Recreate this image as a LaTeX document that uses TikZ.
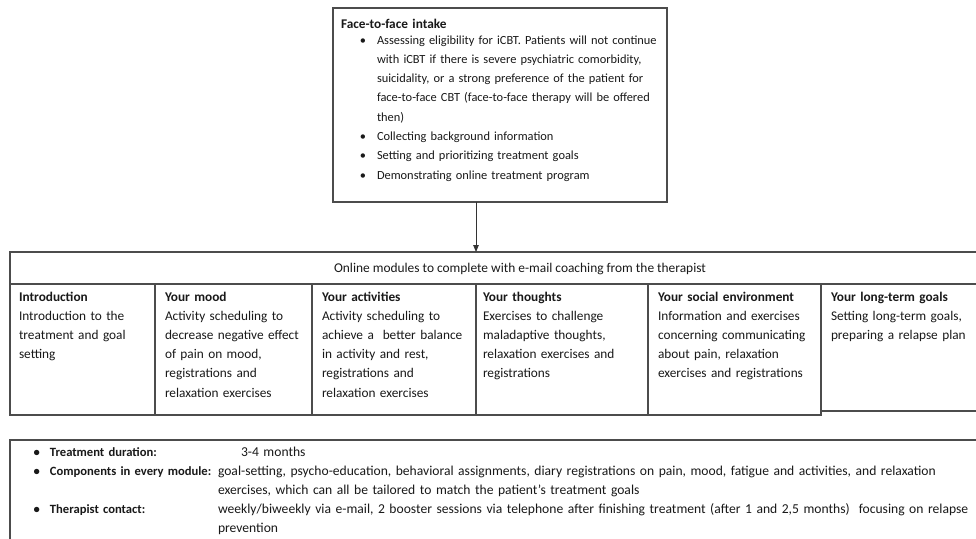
\documentclass[tikz,border=0pt]{standalone}
\usepackage{fontspec}
\setmainfont{Carlito}
\usetikzlibrary{arrows.meta}
\newcommand{\bul}[1]{\leavevmode\llap{\textbullet\hspace{#1}}}
\begin{document}
\begin{tikzpicture}[x=1pt,y=-1pt,
  frame/.style={draw=black!70, line width=1.1pt, inner sep=0pt, outer sep=0pt, anchor=north west},
  txt/.style={anchor=base west, inner sep=0pt, outer sep=0pt, text width=#1, align=left, text=black!90},
  lbl/.style={txt=190pt, font=\fontsize{12.6}{19.2}\selectfont\bfseries},
  val/.style={txt=800pt, font=\fontsize{13.6}{19}\selectfont},
  arrowline/.style={draw=black!80, line width=0.9pt, -{Triangle[width=5.5pt,length=7pt]}},
  font=\fontsize{13.3}{19.2}\selectfont]
\useasboundingbox (0,0) rectangle (976,538);
\fill[white] (0,0) rectangle (976,538);

% intake box
\node[frame, minimum width=334pt, minimum height=194pt] (intake) at (333,8) {};
\node[txt=300pt] (intakehead) at (341,28) {\textbf{Face-to-face intake}};
\node[txt=295pt, font=\fontsize{12.4}{19.3}\selectfont] (intakelist) at (377,44) {%
\bul{11pt}Assessing eligibility for iCBT. Patients will not continue\\
with iCBT if there is severe psychiatric comorbidity,\\
suicidality, or a strong preference of the patient for\\
face-to-face CBT (face-to-face therapy will be offered\\
then)\\
\bul{11pt}Collecting background information\\
\bul{11pt}Setting and prioritizing treatment goals\\
\bul{11pt}Demonstrating online treatment program};

% modules table
\node[frame, minimum width=1040pt, minimum height=32pt] (online) at (10,252) {};
\node[anchor=base, inner sep=0pt, text=black!90, font=\fontsize{13.4}{19.2}\selectfont] (onlinetxt) at (520,272) {Online modules to complete with e-mail coaching from the therapist};

\node[frame, minimum width=145pt, minimum height=131pt] (c1) at (10,284) {};
\node[frame, minimum width=157pt, minimum height=131pt] (c2) at (155,284) {};
\node[frame, minimum width=164pt, minimum height=131pt] (c3) at (312,284) {};
\node[frame, minimum width=172pt, minimum height=131pt] (c4) at (476,284) {};
\node[frame, minimum width=173pt, minimum height=131pt] (c5) at (648,284) {};
\node[frame, minimum width=229pt, minimum height=127pt] (c6) at (821,284) {};

\node[txt=140pt] (c1t) at (19,301) {\textbf{Introduction}\\Introduction to the\\treatment and goal\\setting};
\node[txt=150pt] (c2t) at (165,301) {\textbf{Your mood}\\Activity scheduling to\\decrease negative effect\\of pain on mood,\\registrations and\\relaxation exercises};
\node[txt=155pt] (c3t) at (322,301) {\textbf{Your activities}\\Activity scheduling to\\achieve a\ \ better balance\\in activity and rest,\\registrations and\\relaxation exercises};
\node[txt=165pt] (c4t) at (483,301) {\textbf{Your thoughts}\\Exercises to challenge\\maladaptive thoughts,\\relaxation exercises and\\registrations};
\node[txt=168pt] (c5t) at (658,301) {\textbf{Your social environment}\\Information and exercises\\concerning communicating\\about pain, relaxation\\exercises and registrations};
\node[txt=150pt] (c6t) at (831,301) {\textbf{Your long-term goals}\\Setting long-term goals,\\preparing a relapse plan};

% arrow
\coordinate (ax) at (476,0);
\draw[arrowline] (intake.south -| ax) -- (online.north -| ax);

% info box
\node[frame, minimum width=1040pt, minimum height=140pt] (info) at (10,440) {};
\node[lbl] (dur) at (50,456) {\bul{10pt}Treatment duration:};
\node[val] (durv) at (241,456) {3-4 months};
\node[lbl] (comp) at (50,475) {\bul{10pt}Components in every module:};
\node[val] (compv) at (218,475) {goal-setting, psycho-education, behavioral assignments, diary registrations on pain, mood, fatigue and activities, and relaxation\\exercises, which can all be tailored to match the patient’s treatment goals};
\node[lbl] (ther) at (50,513) {\bul{10pt}Therapist contact:};
\node[val] (therv) at (218,513) {weekly/biweekly via e-mail, 2 booster sessions via telephone after finishing treatment (after 1 and 2,5 months)\ \ focusing on relapse\\prevention};
\end{tikzpicture}
\end{document}
